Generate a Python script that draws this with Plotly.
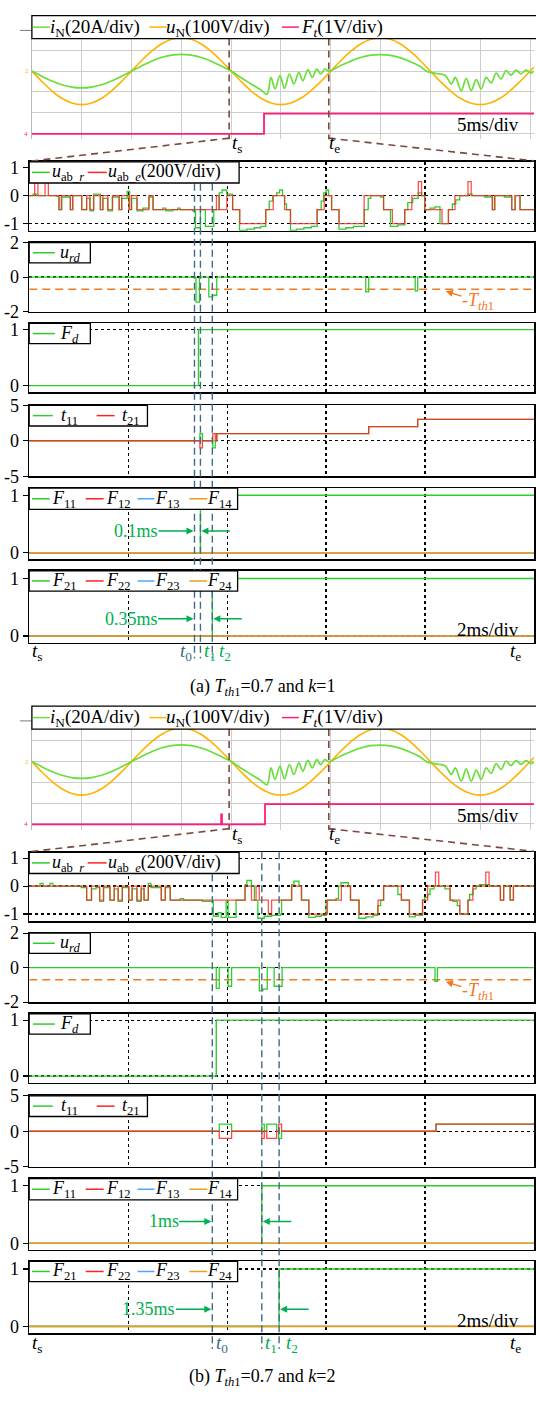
import plotly.graph_objects as go

W, H = 536, 1401
OFF_B = 700.5
SERIF = "Liberation Serif"

# ================= DATA =================
# ---- oscilloscope traces (5 ms/div), amplitude in divisions ----
uN_t = list(range(51)) + [50.4]
uN = [0, -0.50, -0.95, -1.31, -1.54, -1.62, -1.54, -1.31, -0.95, -0.50,
      0, 0.50, 0.95, 1.31, 1.54, 1.62, 1.54, 1.31, 0.95, 0.50,
      0, -0.50, -0.95, -1.31, -1.54, -1.62, -1.54, -1.31, -0.95, -0.50,
      0, 0.50, 0.95, 1.31, 1.54, 1.62, 1.54, 1.31, 0.95, 0.50,
      0, -0.50, -0.95, -1.31, -1.54, -1.62, -1.54, -1.31, -0.95, -0.50,
      0, 0.20]
iN_t = [0, 1, 2, 3, 4, 5, 6, 7, 8, 9, 10, 11, 12, 13, 14, 15, 16, 17, 18, 19, 20,
        21, 22, 23, 23.6, 24.0, 24.4, 24.9, 25.35, 25.85, 26.3, 26.8, 27.2, 27.7,
        28.15, 28.6, 29.0, 29.4, 29.8, 31, 32, 33, 34, 35, 36, 37, 38, 39, 39.6,
        40.8, 41.5, 42.1, 42.5, 43.1, 43.6, 44.1, 44.6, 45.1, 45.6, 46.1, 46.6,
        47.1, 47.6, 48.1, 48.6, 49.1, 49.6, 50.1, 50.4]
iN = [0, -0.25, -0.48, -0.66, -0.77, -0.81, -0.77, -0.66, -0.48, -0.25, 0,
      0.25, 0.48, 0.66, 0.77, 0.81, 0.77, 0.66, 0.48, 0.25, 0,
      -0.32, -0.62, -0.92, -1.12, -0.30, -0.86, -0.22, -0.83, -0.14, -0.62, -0.06,
      -0.46, 0.06, -0.30, 0.10, -0.14, 0.10, 0.0, 0.27, 0.48, 0.66, 0.77, 0.80,
      0.76, 0.64, 0.45, 0.22, 0.0,
      -0.13, -0.21, -0.62, -0.30, -0.94, -0.35, -0.94, -0.41, -0.86, -0.30, -0.57,
      -0.10, -0.38, 0.03, -0.19, 0.05, -0.13, 0.05, -0.10, 0.0]
Ft_a_t = [0, 23.3, 50.4]
Ft_a = [-3.03, -2.05, -2.05]
Ft_b_t = [0, 19.0, 19.08, 23.4, 50.4]
Ft_b = [-3.03, -2.55, -3.03, -2.05, -2.05]
ts_scope, te_scope = 19.8, 29.8
scope_xgrid = [0, 5, 10, 15, 20, 25, 30, 35, 40, 45, 50]
scope_ygrid = [-3, -2, -1, 0, 1]

# ---- zoomed window (2 ms/div), time in ms from ts ----
Tth1 = 0.7
zoom_xgrid = [2, 4, 6, 8]
# (a) k=1
uab_e_a_t = [0, 0.111, 0.177, 0.321, 0.387, 0.603, 0.649, 0.833, 0.879, 1.062, 1.161, 1.226,
             1.305, 1.436, 1.489, 1.587, 1.685, 1.816, 1.869, 2.013, 2.066, 2.177, 2.420,
             2.505, 3.784, 3.836, 3.993, 4.111, 4.256, 4.780, 4.931, 5.161, 5.279, 5.816,
             5.961, 6.111, 6.262, 6.767, 7.161, 7.338, 7.587, 7.731, 7.862, 7.928, 7.993,
             8.341, 8.472, 8.603, 8.866, 8.931, 9.357, 9.403, 9.751, 9.816, 9.915, 10.2]
uab_e_a = [0, 0.5, 0, 0.5, 0, -0.5, 0, -0.5, 0, -0.5, 0, -0.5, 0, -0.5, 0, -0.5, 0, -0.5, 0,
           -0.5, 0, -0.5, 0, -0.5, 0, -0.5, 0, -0.5, -1, -0.5, 0, -0.5, -1, -0.5, 0, -0.5, -1,
           0, -0.5, -1, -0.5, 0, 0.5, 0, -0.5, -1, -0.5, 0, 0.5, 0, -0.5, 0, -0.5, 0, -0.5, -0.5]
uab_r_a_t = [0, 0.08, 0.15, 0.55, 0.6, 0.66, 0.83, 0.88, 1.06, 1.16, 1.23, 1.3, 1.44, 1.49,
             1.59, 1.68, 1.82, 1.87, 1.98, 2.03, 2.07, 2.18, 2.3, 2.42, 2.5, 2.7, 2.76, 2.9,
             3.0, 3.05, 3.3, 3.36, 3.46, 3.56, 3.73, 3.84, 3.9, 3.99, 4.11, 4.25, 4.4, 4.55,
             4.68, 4.78, 4.85, 4.92, 5.0, 5.06, 5.12, 5.16, 5.2, 5.28, 5.4, 5.55, 5.7, 5.82,
             5.9, 5.95, 6.0, 6.05, 6.11, 6.26, 6.4, 6.55, 6.77, 6.85, 6.9, 7.1, 7.16, 7.3,
             7.45, 7.59, 7.65, 7.75, 7.86, 7.93, 7.99, 8.1, 8.2, 8.3, 8.47, 8.55, 8.62, 8.7,
             8.87, 8.95, 9.2, 9.36, 9.41, 9.5, 9.6, 9.75, 9.82, 9.92, 10.2]
uab_r_a = [0, 0.05, 0, -0.03, -0.5, -0.05, -0.5, 0, -0.5, -0.1, -0.55, 0.05, -0.5, -0.1,
           -0.55, -0.05, -0.5, -0.1, 0.15, -0.5, -0.1, -0.55, -0.45, -0.05, -0.5, -0.45,
           -0.55, -0.5, -0.45, -0.5, -0.55, -1.15, -0.5, -1.1, -0.5, 0.1, 0.2, 0.05, -0.5,
           -1.25, -1.2, -1.15, -1.1, -0.5, -0.2, 0, 0.1, 0.2, 0, -0.3, -0.5, -1.25, -1.2,
           -1.15, -1.1, -0.5, -0.2, 0.1, 0.2, 0, -0.5, -1.2, -1.15, -1.1, -0.5, -0.1, 0,
           -0.05, -0.5, -1.1, -1.05, -0.5, -0.25, -0.1, 0.1, 0, -0.5, -0.45, -0.4, -1.0,
           -0.5, -0.3, -0.15, 0, 0.05, 0, -0.05, -0.5, 0, 0, -0.05, -0.5, 0, -0.5, -0.5]
urd_a_t = [0, 3.37, 3.44, 3.63, 3.71, 3.79, 6.80, 6.86, 7.80, 7.85, 10.2]
urd_a = [0, -1.45, 0, -1.15, -1.05, 0, -0.85, 0, -0.8, 0, 0]
Fd_a_t = [0, 3.42, 10.2]
Fd_a = [0, 1, 1]
t11_a_t = [0, 3.45, 3.50, 3.71, 3.76, 3.79, 6.86, 7.85, 10.2]
t11_a = [0, 1, 0, -1, 0, 1, 2, 3, 3]
t21_a_t = [0, 3.45, 3.50, 3.71, 3.76, 3.79, 6.86, 7.85, 10.2]
t21_a = [0, -1, 0, 1, 0, 1, 2, 3, 3]
F11_a_t = [0, 3.46, 10.2]
F11_a = [0, 1, 1]
F21_a_t = [0, 3.70, 10.2]
F21_a = [0, 1, 1]
tmarks_a = [3.34, 3.46, 3.70]          # t0, t1, t2
gap_labels_a = ["0.1ms", "0.35ms"]

# (b) k=2
uab_e_b_t = [0, 1.161, 1.259, 1.423, 1.502, 1.633, 1.718, 1.797, 1.882, 2.013, 2.079, 2.177,
             2.262, 2.321, 2.407, 2.669, 2.75, 2.85, 4.361, 4.492, 4.584, 4.649, 4.833, 4.898,
             5.305, 5.502, 5.652, 6.026, 6.308, 6.492, 6.669, 7.049, 7.161, 7.521, 7.685,
             7.948, 8.05, 8.210, 8.275, 8.505, 8.702, 8.866, 8.964, 9.226, 9.292, 9.521,
             9.587, 9.718, 9.784, 10.2]
uab_e_b = [0, -0.5, 0, -0.5, 0, -0.5, 0, -0.5, 0, -0.5, 0, -0.5, 0, -0.5, 0, -0.5, 0, -0.5,
           0, -0.5, 0, -0.5, -1, -0.5, 0, -0.5, -1, -0.5, 0, -0.5, -1, -0.5, 0, -0.5, -1,
           -0.5, 0, 0.5, 0, -0.5, -1, -0.5, 0, 0.5, 0, -0.5, 0, -0.5, 0, 0]
uab_r_b_t = [0, 0.22, 0.28, 0.42, 0.48, 1.05, 1.161, 1.259, 1.35, 1.423, 1.502, 1.633, 1.718,
             1.797, 1.882, 2.013, 2.079, 2.177, 2.262, 2.321, 2.407, 2.46, 2.669, 2.75, 2.85,
             3.05, 3.12, 3.5, 3.72, 3.82, 3.88, 3.98, 4.02, 4.18, 4.3, 4.361, 4.4, 4.49, 4.55,
             4.62, 4.75, 4.9, 5.08, 5.1, 5.3, 5.35, 5.45, 5.502, 5.65, 5.78, 5.9, 6.0, 6.2,
             6.25, 6.3, 6.45, 6.492, 6.66, 6.8, 6.95, 7.04, 7.1, 7.161, 7.45, 7.521, 7.68,
             7.8, 7.948, 7.99, 8.05, 8.1, 8.18, 8.4, 8.505, 8.56, 8.65, 8.7, 8.866, 8.9, 8.97,
             9.03, 9.1, 9.3, 9.521, 9.587, 9.718, 9.784, 10.2]
uab_r_b = [0, 0.1, 0, 0.1, 0, -0.05, -0.5, -0.1, -0.05, -0.55, -0.05, -0.5, -0.1, -0.55,
           -0.05, -0.5, -0.1, -0.55, -0.1, -0.5, 0.1, -0.05, -0.5, -0.05, -0.5, -0.45, -0.5,
           -0.55, -1.08, -0.95, -1.12, -0.55, -1.12, -0.5, -0.5, 0.05, 0.2, 0, -0.5, -1.15,
           -1.08, -1.05, -1.0, -0.5, 0.05, 0.18, 0, -0.5, -1.12, -1.08, -1.05, -0.5, -0.45,
           0, 0.12, 0, -0.5, -1.15, -1.1, -1.05, -0.7, -0.5, 0, -0.3, -0.5, -1.1, -1.05,
           -0.5, -0.4, -0.3, -0.1, 0, -0.1, -0.5, -0.55, -0.7, -1.0, -0.5, -0.3, -0.1, 0,
           0.05, 0, -0.5, 0, -0.5, 0, 0]
urd_b_t = [0, 3.78, 3.84, 4.02, 4.09, 4.65, 4.72, 4.81, 4.95, 5.11, 8.20, 8.25, 10.2]
urd_b = [0, -1.2, 0, -1.08, 0, -1.35, -1.25, 0, -1.08, 0, -0.8, 0, 0]
Fd_b_t = [0, 3.78, 10.2]
Fd_b = [0, 1, 1]
t11_b_t = [0, 3.84, 4.09, 4.70, 4.75, 4.80, 5.00, 5.04, 5.10, 8.22, 10.2]
t11_b = [0, 1, 0, 1, 0, 1, 0, -1, 0, 1, 1]
t21_b_t = [0, 3.84, 4.09, 4.70, 4.75, 4.80, 5.00, 5.04, 5.10, 8.22, 10.2]
t21_b = [0, -1, 0, -1, 0, -1, 0, 1, 0, 1, 1]
F11_b_t = [0, 4.70, 10.2]
F11_b = [0, 1, 1]
F21_b_t = [0, 5.05, 10.2]
F21_b = [0, 1, 1]
tmarks_b = [3.70, 4.70, 5.05]
gap_labels_b = ["1ms", "1.35ms"]

captions = ["(a) <i>T</i><sub><i>th</i>1</sub>=0.7 and <i>k</i>=1",
            "(b) <i>T</i><sub><i>th</i>1</sub>=0.7 and <i>k</i>=2"]

# ================= STYLE =================
G, R, B, O = "#2fcc2f", "#ff2424", "#4da6ff", "#e6a21a"
SG, SO, SP = "#6ade3a", "#ffb300", "#ff1c78"
TEAL = "#3d6d83"
BROWN = "#7a4a3e"
ARROWG = "#00b050"
ORANGE = "#f07a22"

fig = go.Figure()
layout = dict(width=W, height=H, margin=dict(l=0, r=0, t=0, b=0), autosize=False,
              paper_bgcolor="white", plot_bgcolor="white", showlegend=False,
              font=dict(family=SERIF, size=18, color="black"))
shapes, anns = [], []
box_shapes, box_anns = [], []
ax_n = [0]


def new_axes(xpx, ypx, xr, yr, kind, yvals=None, ytext=None):
    ax_n[0] += 1
    n = ax_n[0]
    s = "" if n == 1 else str(n)
    xa = dict(domain=[xpx[0] / W, xpx[1] / W], range=xr, anchor="y" + s, zeroline=False)
    ya = dict(domain=[1 - ypx[1] / H, 1 - ypx[0] / H], range=yr, anchor="x" + s, zeroline=False)
    if kind == "scope":
        xa.update(tickvals=scope_xgrid, showticklabels=False, ticks="",
                  showgrid=True, gridcolor="#cdcdcd", gridwidth=1, showline=False)
        ya.update(tickvals=scope_ygrid, showticklabels=False, ticks="",
                  showgrid=True, gridcolor="#cdcdcd", gridwidth=1,
                  showline=True, linecolor="#b8b8b8", linewidth=1)
    else:
        xa.update(tickvals=zoom_xgrid, showticklabels=False, ticks="",
                  showgrid=True, gridcolor="black", griddash="dot", gridwidth=1.3,
                  showline=True, mirror=True, linecolor="black", linewidth=1.5)
        ya.update(tickvals=yvals, ticktext=ytext, ticks="outside", ticklen=5,
                  tickcolor="black", tickwidth=1.2, showgrid=True, gridcolor="black",
                  griddash="dot", gridwidth=1.3, showline=True, mirror=True,
                  linecolor="black", linewidth=1.5,
                  tickfont=dict(family=SERIF, size=18, color="black"))
    layout["xaxis" + s] = xa
    layout["yaxis" + s] = ya
    return "x" + s, "y" + s


def line(fig, x, y, xa, ya, color, width=1.3, shape="hv", dash=None, opacity=1.0):
    fig.add_trace(go.Scatter(x=x, y=y, mode="lines", xaxis=xa, yaxis=ya, hoverinfo="skip",
                             opacity=opacity,
                             line=dict(color=color, width=width, shape=shape, dash=dash)))


def ptext(xpx, ypx, text, size=18, color="black", xanchor="center", yanchor="middle"):
    anns.append(dict(xref="paper", yref="paper", x=xpx / W, y=1 - ypx / H, text=text,
                     showarrow=False, xanchor=xanchor, yanchor=yanchor, borderpad=0,
                     font=dict(family=SERIF, size=size, color=color)))


def legend_box(x0, x1, y0, y1, items, size=18):
    """items: (line_x0, line_x1, color, text_x, text)"""
    box_shapes.append(dict(type="rect", xref="paper", yref="paper", x0=x0 / W, x1=x1 / W,
                           y0=1 - y1 / H, y1=1 - y0 / H, layer="above",
                           fillcolor="white", line=dict(color="black", width=1.3)))
    yc = (y0 + y1) / 2
    for lx0, lx1, c, tx, txt in items:
        box_shapes.append(dict(type="line", xref="paper", yref="paper", x0=lx0 / W,
                               x1=lx1 / W, y0=1 - yc / H, y1=1 - yc / H, layer="above",
                               line=dict(color=c, width=1.5)))
        box_anns.append(dict(xref="paper", yref="paper", x=tx / W, y=1 - (yc + 0.5) / H,
                             text=txt, showarrow=False, xanchor="left", yanchor="middle",
                             borderpad=0, font=dict(family=SERIF, size=size, color="black")))


PARTS = [
    dict(Ft_t=Ft_a_t, Ft=Ft_a, uab_e_t=uab_e_a_t, uab_e=uab_e_a, uab_r_t=uab_r_a_t,
         uab_r=uab_r_a, urd_t=urd_a_t, urd=urd_a, Fd_t=Fd_a_t, Fd=Fd_a, t11_t=t11_a_t,
         t11=t11_a, t21_t=t21_a_t, t21=t21_a, F11_t=F11_a_t, F11=F11_a, F21_t=F21_a_t,
         F21=F21_a, tm=tmarks_a, gaps=gap_labels_a),
    dict(Ft_t=Ft_b_t, Ft=Ft_b, uab_e_t=uab_e_b_t, uab_e=uab_e_b, uab_r_t=uab_r_b_t,
         uab_r=uab_r_b, urd_t=urd_b_t, urd=urd_b, Fd_t=Fd_b_t, Fd=Fd_b, t11_t=t11_b_t,
         t11=t11_b, t21_t=t21_b_t, t21=t21_b, F11_t=F11_b_t, F11=F11_b, F21_t=F21_b_t,
         F21=F21_b, tm=tmarks_b, gaps=gap_labels_b),
]

XL = 29.3       # left edge of zoomed panels (px)
XR_T = 10.2     # ms at right edge
SC_X0, SC_R = 32, 50.4
t_px = lambda t: XL + (W - XL) * t / XR_T
sc_px = lambda t: SC_X0 + (W - SC_X0) * t / SC_R

for p, d in enumerate(PARTS):
    off = p * OFF_B
    # ---------------- scope ----------------
    sx, sy = new_axes((SC_X0, W), (29 + off, 131 + off), [0, SC_R], [-3.286, 1.571], "scope")
    line(fig, uN_t, uN, sx, sy, SO, 1.6, "spline")
    line(fig, iN_t, iN, sx, sy, SG, 1.7, "spline")
    line(fig, d["Ft_t"], d["Ft"], sx, sy, SP, 1.8, "hv")
    legend_box(SC_X0, W + 10, 5.7 + off, 29 + off, [
        (33, 50, SG, 49, "<i>i</i><sub>N</sub>(20A/div)"),
        (150, 167, SO, 166, "<i>u</i><sub>N</sub>(100V/div)"),
        (283, 300, SP, 301, "<i>F</i><sub><i>t</i></sub>(1V/div)")], size=19)
    shapes.append(dict(type="line", xref="paper", yref="paper", x0=20 / W, x1=SC_X0 / W,
                       y0=1 - (20.7 + off) / H, y1=1 - (20.7 + off) / H,
                       line=dict(color="#6a7f8c", width=1)))
    ptext(27.5, 62 + off, "2", 7, SO)
    ptext(26.5, 125.5 + off, "4", 7, SP)
    for tt in (ts_scope, te_scope):
        shapes.append(dict(type="line", xref=sx, yref="paper", x0=tt, x1=tt,
                           y0=1 - (29 + off) / H, y1=1 - (131 + off) / H, layer="above",
                           line=dict(color=BROWN, width=1.6, dash="7px,5px")))
    shapes.append(dict(type="line", xref="paper", yref="paper", x0=sc_px(ts_scope) / W,
                       x1=XL / W, y0=1 - (130 + off) / H, y1=1 - (153.5 + off) / H,
                       line=dict(color=BROWN, width=1.6, dash="7px,5px")))
    shapes.append(dict(type="line", xref="paper", yref="paper", x0=sc_px(te_scope) / W,
                       x1=1, y0=1 - (130 + off) / H, y1=1 - (153 + off) / H,
                       line=dict(color=BROWN, width=1.6, dash="7px,5px")))
    ptext(sc_px(ts_scope) + 2, 136 + off, "<i>t</i><sub>s</sub>", 19, xanchor="left")
    ptext(sc_px(te_scope) - 1, 136 + off, "<i>t</i><sub>e</sub>", 19, xanchor="left")
    ptext(490, 116.5 + off, "5ms/div", 19)

    # ---------------- u_ab ----------------
    x1, y1 = new_axes((XL, W), (154 + off, 224 + off), [0, XR_T], [-1.26, 1.21], "p",
                      [1, 0, -1], ["1", "0", "-1"])
    line(fig, d["uab_r_t"], d["uab_r"], x1, y1, G, 1.3)
    line(fig, d["uab_e_t"], d["uab_e"], x1, y1, R, 1.3, opacity=0.8)
    legend_box(XL, 240, 154 + off, 175.5 + off, [
        (32, 50, G, 51, "<i>u</i><sub>ab_<i>r</i></sub>"),
        (88, 107, R, 107, "<i>u</i><sub>ab_<i>e</i></sub>(200V/div)")])
    # ---------------- u_rd ----------------
    x2, y2 = new_axes((XL, W), (236 + off, 306 + off), [0, XR_T], [-2, 2], "p",
                      [2, 0, -2], ["2", "0", "-2"])
    line(fig, [0, XR_T], [-Tth1, -Tth1], x2, y2, ORANGE, 1.5, "linear", "8px,5px")
    line(fig, d["urd_t"], d["urd"], x2, y2, G, 1.3)
    legend_box(XL, 90.7, 236 + off, 256.5 + off, [
        (33, 55, G, 59, "<i>u</i><sub><i>rd</i></sub>")])
    anns.append(dict(xref=x2, yref=y2, x=8.42, y=-0.82, ax=32, ay=10, axref="pixel",
                     ayref="pixel", showarrow=True, arrowhead=2, arrowsize=1, arrowwidth=1.4,
                     arrowcolor=ORANGE, standoff=0, startstandoff=0, borderpad=0,
                     text="-<i>T</i><sub><i>th</i>1</sub>",
                     font=dict(family=SERIF, size=18, color=ORANGE)))
    # ---------------- F_d ----------------
    x3, y3 = new_axes((XL, W), (318 + off, 388 + off), [0, XR_T], [-0.123, 1.111], "p",
                      [1, 0], ["1", "0"])
    line(fig, d["Fd_t"], d["Fd"], x3, y3, G, 1.4)
    legend_box(XL, 90.7, 318 + off, 338.5 + off, [
        (33, 55, G, 59, "<i>F</i><sub><i>d</i></sub>")])
    # ---------------- t11, t21 ----------------
    x4, y4 = new_axes((XL, W), (401 + off, 473 + off), [0, XR_T], [-5, 5], "p",
                      [5, 0, -5], ["5", "0", "-5"])
    line(fig, d["t11_t"], d["t11"], x4, y4, G, 1.3)
    line(fig, d["t21_t"], d["t21"], x4, y4, R, 1.3, opacity=0.85)
    legend_box(XL, 148, 401 + off, 422 + off, [
        (33, 53, G, 60, "<i>t</i><sub>11</sub>"),
        (97, 115, R, 121, "<i>t</i><sub>21</sub>")])
    # ---------------- F1x ----------------
    x5, y5 = new_axes((XL, W), (485 + off, 557 + off), [0, XR_T], [-0.108, 1.125], "p",
                      [1, 0], ["1", "0"])
    line(fig, d["F11_t"], d["F11"], x5, y5, G, 1.4)
    line(fig, [0, XR_T], [0, 0], x5, y5, R, 1.3)
    line(fig, [0, XR_T], [0, 0], x5, y5, B, 1.3)
    line(fig, [0, XR_T], [0, 0], x5, y5, O, 1.5)
    legend_box(XL, 238.5, 485 + off, 506.7 + off, [
        (32, 50, G, 51, "<i>F</i><sub>11</sub>"),
        (86, 104, R, 105, "<i>F</i><sub>12</sub>"),
        (138, 155, B, 155, "<i>F</i><sub>13</sub>"),
        (190, 208, O, 207, "<i>F</i><sub>14</sub>")])
    # ---------------- F2x ----------------
    x6, y6 = new_axes((XL, W), (569 + off, 642 + off), [0, XR_T], [-0.12, 1.132], "p",
                      [1, 0], ["1", "0"])
    line(fig, d["F21_t"], d["F21"], x6, y6, G, 1.4)
    line(fig, [0, XR_T], [0, 0], x6, y6, R, 1.3)
    line(fig, [0, XR_T], [0, 0], x6, y6, B, 1.3)
    line(fig, [0, XR_T], [0, 0], x6, y6, O, 1.5)
    legend_box(XL, 238.5, 569 + off, 589.5 + off, [
        (32, 50, G, 51, "<i>F</i><sub>21</sub>"),
        (86, 104, R, 105, "<i>F</i><sub>22</sub>"),
        (138, 155, B, 155, "<i>F</i><sub>23</sub>"),
        (190, 208, O, 207, "<i>F</i><sub>24</sub>")])
    ptext(490, 628.5 + off, "2ms/div", 19)

    # ---- event markers t0, t1, t2 ----
    t0, t1, t2 = d["tm"]
    for tt in (t0, t1, t2):
        shapes.append(dict(type="line", xref=x1, yref="paper", x0=tt, x1=tt,
                           y0=1 - (154 + off) / H, y1=1 - (658 + off) / H, layer="above",
                           line=dict(color=TEAL, width=1.4, dash="7px,4px")))
    # gap annotations
    for (xa_, ya_, yv, lab, tend) in ((x5, y5, 0.38, d["gaps"][0], t1),
                                      (x6, y6, 0.30, d["gaps"][1], t2)):
        anns.append(dict(xref=xa_, yref=ya_, x=t0, y=yv, text=lab, showarrow=True,
                         ax=-(len(lab) * 4.9 + 34), ay=0, axref="pixel", ayref="pixel",
                         arrowhead=2, arrowsize=1, arrowwidth=1.4, arrowcolor=ARROWG,
                         standoff=1, borderpad=0,
                         font=dict(family=SERIF, size=18, color=ARROWG)))
        anns.append(dict(xref=xa_, yref=ya_, x=tend, y=yv, text="", showarrow=True,
                         ax=31, ay=0, axref="pixel", ayref="pixel", arrowhead=2,
                         arrowsize=1, arrowwidth=1.4, arrowcolor=ARROWG, standoff=1,
                         font=dict(size=2)))
    # bottom labels
    yl = 651 + off if p == 0 else 652.5 + off
    ptext(31, yl, "<i>t</i><sub>s</sub>", 19, xanchor="left")
    ptext(W - 25, yl, "<i>t</i><sub>e</sub>", 19, xanchor="left")
    if p == 0:
        ptext(t_px(t0) - 1.5, yl, "<i>t</i><sub>0</sub>", 19, TEAL, xanchor="right")
    else:
        ptext(t_px(t0) + 2.5, yl, "<i>t</i><sub>0</sub>", 19, TEAL, xanchor="left")
    ptext(t_px(t1) + 2.5, yl, "<i>t</i><sub>1</sub>", 19, ARROWG, xanchor="left")
    ptext(t_px(t2) + 6, yl, "<i>t</i><sub>2</sub>", 19, ARROWG, xanchor="left")
    ptext(263, 687 + off, captions[p], 18)

layout["shapes"] = shapes + box_shapes
layout["annotations"] = anns + box_anns
fig.update_layout(**layout)
fig.write_html("out.html", config={"displayModeBar": False, "staticPlot": True},
               post_script="document.body.style.margin='0px';document.body.style.padding='0px';")
